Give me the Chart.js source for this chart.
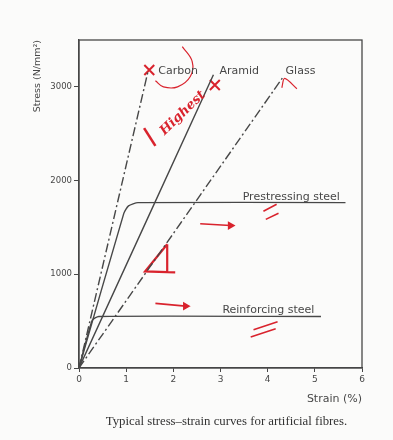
<!DOCTYPE html>
<html>
<head>
<meta charset="utf-8">
<script src="https://cdn.jsdelivr.net/npm/chart.js@4.4.1/dist/chart.umd.min.js"></script>
<style>
  html, body { margin: 0; padding: 0; background: #fbfbfa; }
  #wrap { width: 393px; height: 440px; }
</style>
</head>
<body>
<div id="wrap"><canvas id="grafico"></canvas></div>
<script>
// Datos (deformacion %, tension N/mm2)
const strainTicks = [0, 1, 2, 3, 4, 5, 6];
const stressTicks = [0, 1000, 2000, 3000];

const carbon = [{x: 0, y: 0}, {x: 1.47, y: 3180}];
const aramid = [{x: 0, y: 0}, {x: 2.85, y: 3130}];
const glass = [{x: 0, y: 0}, {x: 4.32, y: 3100}];
const prestressing = [{x: 0, y: 0}, {x: 0.95, y: 1650}, {x: 1.05, y: 1730}, {x: 1.25, y: 1765}, {x: 5.65, y: 1765}];
const reinforcing = [{x: 0, y: 0}, {x: 0.28, y: 510}, {x: 0.42, y: 550}, {x: 5.13, y: 550}];

const curveLabels = [
  {text: 'Carbon', x: 1.68, y: 3170},
  {text: 'Aramid', x: 2.98, y: 3170},
  {text: 'Glass', x: 4.38, y: 3170},
  {text: 'Prestressing steel', x: 3.47, y: 1820},
  {text: 'Reinforcing steel', x: 3.04, y: 620}
];
const caption = 'Typical stress\u2013strain curves for artificial fibres.';

// Anotaciones a mano (rojo)
const redCrosses = [{x: 1.49, y: 3180}, {x: 2.88, y: 3020}];
const carbonCircle = [{x: 2.19, y: 3430}, {x: 2.40, y: 3270}, {x: 2.36, y: 3110}, {x: 2.09, y: 3000}, {x: 1.79, y: 3000}, {x: 1.62, y: 3065}];
const glassTick = [{x: 4.3, y: 2990}, {x: 4.36, y: 3090}, {x: 4.62, y: 2980}];
const upMark = [{x: 1.62, y: 2370}, {x: 1.38, y: 2560}];
const arrowUpper = [{x: 2.57, y: 1540}, {x: 3.21, y: 1520}];
const arrowLower = [{x: 1.62, y: 690}, {x: 2.26, y: 660}];
const equalsUpper = [{x: 3.91, y: 1672}, {x: 4.19, y: 1747}, {x: 4.0, y: null}, {x: 3.96, y: 1586}, {x: 4.23, y: 1651}];
const equalsLower = [{x: 3.70, y: 407}, {x: 4.21, y: 493}, {x: 4.0, y: null}, {x: 3.64, y: 332}, {x: 4.17, y: 418}];
const deltaMark = [{x: 1.87, y: 1320}, {x: 1.40, y: 1030}, {x: 2.04, y: 1020}, {x: 1.9, y: null}, {x: 1.87, y: 1320}, {x: 1.87, y: 1020}];
const handNote = {text: 'Highest', x: 2.2, y: 2720};

const ink = '#474747';
const red = '#d9232d';

const curve = (data, dash) => ({
  data: data,
  showLine: true,
  borderColor: ink,
  borderWidth: 1.4,
  borderDash: dash,
  pointRadius: 0,
  tension: 0.2
});
const pen = (data, extra) => Object.assign({
  data: data,
  showLine: true,
  borderColor: red,
  backgroundColor: red,
  borderWidth: 1.6,
  pointRadius: 0,
  spanGaps: false
}, extra || {});

// Marco, etiquetas de curvas, pie de figura y nota manuscrita
const extras = {
  id: 'extras',
  afterDatasetsDraw(chart) {
    const {ctx, chartArea: a, scales: {x, y}} = chart;
    ctx.save();
    ctx.strokeStyle = ink;
    ctx.lineWidth = 1.3;
    ctx.strokeRect(a.left, a.top, a.right - a.left, a.bottom - a.top);
    ctx.fillStyle = ink;
    ctx.font = '11px "DejaVu Sans"';
    ctx.textBaseline = 'middle';
    curveLabels.forEach(l => ctx.fillText(l.text, x.getPixelForValue(l.x), y.getPixelForValue(l.y)));
    ctx.fillStyle = '#333';
    ctx.font = '12.8px "Liberation Serif"';
    ctx.textAlign = 'center';
    ctx.fillText(caption, (a.left + a.right) / 2 + 6, a.bottom + 54);
    ctx.translate(x.getPixelForValue(handNote.x), y.getPixelForValue(handNote.y));
    ctx.rotate(-44 * Math.PI / 180);
    ctx.fillStyle = red;
    ctx.font = 'italic bold 13px "DejaVu Serif"';
    ctx.fillText(handNote.text, 0, 0);
    ctx.restore();
  }
};

new Chart(document.getElementById('grafico'), {
  type: 'scatter',
  data: {
    datasets: [
      curve(carbon, [9, 3, 2, 3]),
      curve(aramid, []),
      curve(glass, [9, 3, 2, 3]),
      curve(prestressing, []),
      curve(reinforcing, []),
      pen(carbonCircle, {tension: 0.4, borderWidth: 1.2}),
      pen(glassTick, {tension: 0.3, borderWidth: 1.2}),
      pen(upMark, {borderWidth: 2.6}),
      pen(arrowUpper, {pointRadius: [0, 3.5], pointStyle: 'triangle', rotation: 90}),
      pen(arrowLower, {pointRadius: [0, 3.5], pointStyle: 'triangle', rotation: 90}),
      pen(equalsUpper),
      pen(equalsLower),
      pen(deltaMark, {borderWidth: 2.2}),
      {data: redCrosses, pointStyle: 'crossRot', pointRadius: 7, borderColor: red, borderWidth: 2}
    ]
  },
  options: {
    responsive: true,
    maintainAspectRatio: false,
    animation: false,
    layout: {padding: {left: 30, right: 31, top: 40, bottom: 32}},
    plugins: {
      legend: {display: false},
      tooltip: {enabled: false}
    },
    scales: {
      x: {
        type: 'linear',
        min: 0,
        max: 6,
        afterBuildTicks: s => { s.ticks = strainTicks.map(v => ({value: v})); },
        afterFit: s => { s.height = 40; },
        grid: {drawOnChartArea: false, color: ink, tickLength: 4},
        border: {color: ink, width: 1.3},
        ticks: {color: ink, font: {family: '"DejaVu Sans"', size: 9}, padding: 2, callback: v => String(v)},
        title: {display: true, text: 'Strain (%)', align: 'end', color: ink, font: {family: '"DejaVu Sans"', size: 11}, padding: 2}
      },
      y: {
        type: 'linear',
        min: 0,
        max: 3500,
        afterBuildTicks: s => { s.ticks = stressTicks.map(v => ({value: v})); },
        afterFit: s => { s.width = 49; },
        grid: {drawOnChartArea: false, color: ink, tickLength: 5},
        border: {color: ink, width: 1.3},
        ticks: {color: ink, font: {family: '"DejaVu Sans"', size: 8.5}, padding: 2, callback: v => String(v)},
        title: {display: true, text: 'Stress (N/mm\u00b2)', align: 'end', color: ink, font: {family: '"DejaVu Sans"', size: 9.5}, padding: 2}
      }
    }
  },
  plugins: [extras]
});
</script>
</body>
</html>
